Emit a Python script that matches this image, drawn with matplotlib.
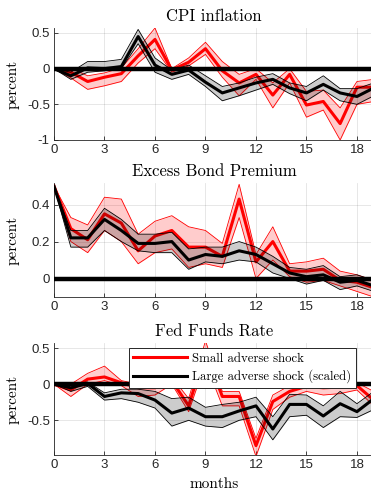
import numpy as np
import matplotlib
matplotlib.use("Agg")
import matplotlib.pyplot as plt
from matplotlib.lines import Line2D

months = np.arange(0, 20)
xticks = [0, 3, 6, 9, 12, 15, 18]

# CPI inflation
cpi_small = [0, -0.05, -0.18, -0.12, -0.07, 0.18, 0.41, -0.02, 0.09, 0.28, -0.03, -0.20, -0.08, -0.37, -0.08, -0.51, -0.46, -0.77, -0.26, -0.26]
cpi_small_lo = [0, -0.13, -0.29, -0.24, -0.18, 0.08, 0.28, -0.05, 0.04, 0.20, -0.12, -0.38, -0.15, -0.55, -0.20, -0.68, -0.58, -1.00, -0.50, -0.46]
cpi_small_hi = [0, 0.01, -0.10, -0.06, 0.01, 0.28, 0.57, 0.00, 0.15, 0.37, 0.10, -0.08, 0.00, -0.20, 0.00, -0.32, -0.30, -0.55, -0.18, -0.15]
cpi_large = [0, -0.10, 0.01, 0.00, 0.03, 0.45, 0.05, -0.08, -0.02, -0.19, -0.34, -0.27, -0.20, -0.15, -0.27, -0.34, -0.22, -0.34, -0.39, -0.27]
cpi_large_lo = [0, -0.15, -0.05, -0.03, 0.00, 0.35, -0.05, -0.15, -0.08, -0.25, -0.45, -0.38, -0.30, -0.22, -0.35, -0.45, -0.30, -0.45, -0.50, -0.38]
cpi_large_hi = [0, -0.05, 0.10, 0.10, 0.13, 0.55, 0.15, -0.02, 0.05, -0.10, -0.25, -0.20, -0.12, -0.07, -0.20, -0.25, -0.10, -0.28, -0.28, -0.20]

# Excess Bond Premium
ebp_small = [0.50, 0.27, 0.21, 0.35, 0.30, 0.15, 0.23, 0.26, 0.17, 0.17, 0.12, 0.43, 0.09, 0.20, 0.04, 0.04, 0.05, -0.01, -0.02, -0.05]
ebp_small_lo = [0.50, 0.20, 0.14, 0.26, 0.20, 0.08, 0.14, 0.16, 0.06, 0.08, 0.06, 0.33, 0.00, 0.10, 0.01, -0.02, -0.01, -0.04, -0.07, -0.10]
ebp_small_hi = [0.50, 0.33, 0.29, 0.44, 0.43, 0.24, 0.31, 0.34, 0.28, 0.26, 0.19, 0.51, 0.13, 0.28, 0.08, 0.09, 0.11, 0.04, 0.02, -0.01]
ebp_large = [0.50, 0.22, 0.22, 0.32, 0.26, 0.19, 0.19, 0.20, 0.10, 0.13, 0.12, 0.15, 0.13, 0.08, 0.03, 0.01, 0.02, -0.02, -0.01, -0.04]
ebp_large_lo = [0.50, 0.17, 0.17, 0.26, 0.20, 0.15, 0.14, 0.14, 0.05, 0.09, 0.08, 0.10, 0.09, 0.03, 0.00, -0.03, -0.01, -0.06, -0.04, -0.07]
ebp_large_hi = [0.50, 0.26, 0.26, 0.38, 0.32, 0.24, 0.24, 0.25, 0.16, 0.17, 0.17, 0.20, 0.17, 0.12, 0.06, 0.05, 0.07, 0.01, 0.02, -0.01]

# Fed Funds Rate
ffr_small = [0, -0.08, 0.07, 0.10, 0.02, -0.05, -0.05, 0.05, -0.30, 0.45, -0.17, -0.17, -0.85, -0.24, -0.10, -0.03, -0.05, -0.04, -0.02, -0.22]
ffr_small_lo = [0, -0.17, 0.00, 0.05, -0.02, -0.17, -0.15, 0.00, -0.38, 0.30, -0.30, -0.30, -1.00, -0.35, -0.18, -0.10, -0.15, -0.13, -0.08, -0.30]
ffr_small_hi = [0, 0.00, 0.15, 0.25, 0.05, 0.00, 0.00, 0.10, -0.20, 0.60, -0.10, -0.10, -0.75, -0.15, -0.02, 0.00, 0.00, 0.02, 0.02, -0.10]
ffr_large = [0, -0.05, 0.01, -0.17, -0.12, -0.13, -0.22, -0.40, -0.33, -0.45, -0.45, -0.37, -0.30, -0.62, -0.28, -0.28, -0.44, -0.27, -0.38, -0.20]
ffr_large_lo = [0, -0.10, -0.03, -0.22, -0.20, -0.25, -0.33, -0.58, -0.50, -0.58, -0.60, -0.50, -0.45, -0.77, -0.45, -0.43, -0.60, -0.45, -0.46, -0.35]
ffr_large_hi = [0, 0.00, 0.03, -0.12, -0.07, -0.07, -0.10, -0.20, -0.18, -0.32, -0.28, -0.25, -0.18, -0.45, -0.14, -0.15, -0.30, -0.10, -0.27, -0.10]

titles = ["CPI inflation", "Excess Bond Premium", "Fed Funds Rate"]
yticks_list = [[-1, -0.5, 0, 0.5], [0, 0.2, 0.4], [-0.5, 0, 0.5]]
ytick_labels = [["-1", "-0.5", "0", "0.5"], ["0", "0.2", "0.4"], ["-0.5", "0", "0.5"]]
ylims = [(-1.0, 0.57), (-0.1, 0.517), (-0.98, 0.57)]
legend_labels = ["Small adverse shock", "Large adverse shock (scaled)"]

panels = [
    (cpi_small, cpi_small_lo, cpi_small_hi, cpi_large, cpi_large_lo, cpi_large_hi),
    (ebp_small, ebp_small_lo, ebp_small_hi, ebp_large, ebp_large_lo, ebp_large_hi),
    (ffr_small, ffr_small_lo, ffr_small_hi, ffr_large, ffr_large_lo, ffr_large_hi),
]

W, H = 371, 492
fig = plt.figure(figsize=(W / 100, H / 100), dpi=100)
boxes = [(28, 140), (183, 297), (343, 455)]
left_px = 54
width_px = 319.8

serif = ["cmr10", "DejaVu Serif"]
sans = ["Liberation Sans", "DejaVu Sans"]
tick_color = "#262626"

axes = []
for i, (top, bot) in enumerate(boxes):
    ax = fig.add_axes([left_px / W, 1 - bot / H, width_px / W, (bot - top) / H])
    axes.append(ax)
    s, slo, shi, l, llo, lhi = panels[i]
    ax.fill_between(months, slo, shi, color=(1, 0, 0), alpha=0.2, lw=0, zorder=2)
    ax.plot(months, slo, color="red", lw=0.6, zorder=2.1)
    ax.plot(months, shi, color="red", lw=0.6, zorder=2.1)
    ax.plot(months, s, color="red", lw=2.2, zorder=3)
    ax.fill_between(months, llo, lhi, color=(0, 0, 0), alpha=0.2, lw=0, zorder=4)
    ax.plot(months, llo, color="black", lw=0.6, zorder=4.1)
    ax.plot(months, lhi, color="black", lw=0.6, zorder=4.1)
    ax.plot(months, l, color="black", lw=2.2, zorder=5)
    ax.axhline(0, color="black", lw=3.2, zorder=6)

    ax.set_xlim(0, 19)
    ax.set_ylim(*ylims[i])
    ax.set_xticks(xticks)
    ax.set_xticklabels([str(t) for t in xticks], family=sans, fontsize=9.5, color=tick_color)
    ax.set_yticks(yticks_list[i])
    ax.set_yticklabels(ytick_labels[i], family=sans, fontsize=9.5, color=tick_color)
    ax.tick_params(direction="in", length=3, width=0.6, color=tick_color, pad=3)
    ax.grid(True, color="#262626", alpha=0.13, lw=0.6)
    ax.set_axisbelow(True)
    for sp in ["top", "right"]:
        ax.spines[sp].set_visible(False)
    for sp in ["left", "bottom"]:
        ax.spines[sp].set_color(tick_color)
        ax.spines[sp].set_linewidth(0.6)
    ax.set_title(titles[i], family=serif, fontsize=12, pad=5)
    ax.set_ylabel("percent", family=serif, fontsize=11)
    ax.yaxis.set_label_coords(-0.108, 0.5)

axes[2].set_xlabel("months", family=serif, fontsize=11)
axes[2].xaxis.set_label_coords(0.5, -0.2)

handles = [Line2D([0], [0], color="red", lw=2.2), Line2D([0], [0], color="black", lw=2.2)]
leg = axes[2].legend(handles, legend_labels, loc="upper left",
                     bbox_to_anchor=(129 / W, 1 - 348 / H), bbox_transform=fig.transFigure,
                     prop={"family": serif, "size": 9.2}, frameon=True, fancybox=False,
                     edgecolor="#262626", framealpha=1, handlelength=4.2, borderpad=0.35,
                     labelspacing=0.4, handletextpad=0.4, borderaxespad=0)
leg.get_frame().set_linewidth(0.7)
leg.set_zorder(10)

fig.savefig("out.png", dpi=100)
